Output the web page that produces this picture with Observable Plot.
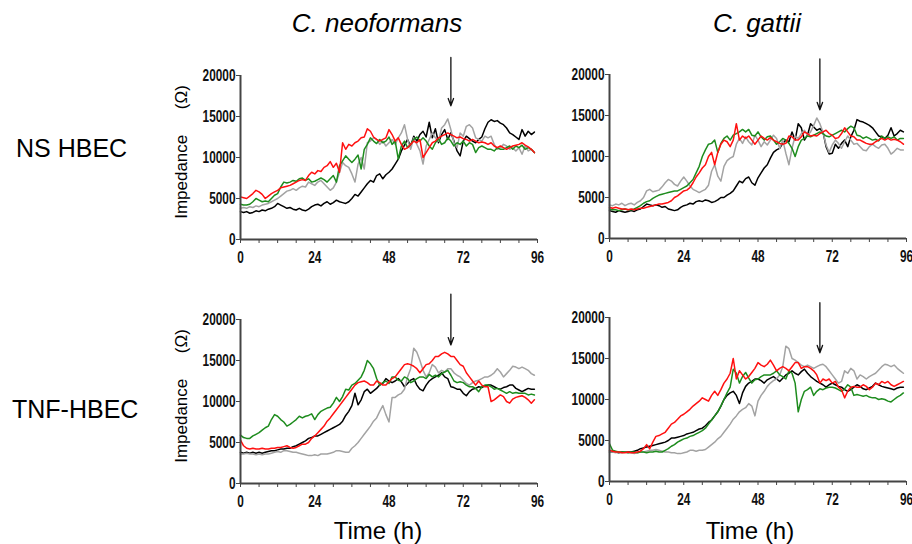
<!DOCTYPE html>
<html>
<head>
<meta charset="utf-8">
<script src="https://cdn.jsdelivr.net/npm/d3@7"></script>
<script src="https://cdn.jsdelivr.net/npm/@observablehq/plot@0.6"></script>
<style>
  html, body { margin: 0; padding: 0; background: #fff; }
  #fig { position: relative; width: 912px; height: 544px; overflow: hidden; background: #fff; }
  #fig > svg.panel { position: absolute; overflow: visible; }
  #labels { position: absolute; left: 0; top: 0; pointer-events: none; }
</style>
</head>
<body>
<div id="fig"></div>
<script>
// ---------- data (impedance in kΩ, one value per hour from 0 h) ----------
const columnTitles = ["C. neoformans", "C. gattii"];
const rowTitles = ["NS HBEC", "TNF-HBEC"];
const yTicks = [0, 5, 10, 15, 20];
const yTickLabels = ["0", "5000", "10000", "15000", "20000"];
const xTicks = [0, 6, 12, 18, 24, 30, 36, 42, 48, 54, 60, 66, 72, 78, 84, 90, 96];
const xTickLabels = [0, 24, 48, 72, 96];
const treatmentTime = 68;

// NS HBEC, C. neoformans
const tlBlack = [3.4,3.3,3.4,3.2,3.3,3.5,3.4,3.6,3.5,3.7,3.8,
  4.0,4.4,4.2,4.0,3.8,3.9,3.7,3.6,3.8,3.6,
  3.5,3.7,4.0,4.2,4.3,4.1,4.4,4.6,4.3,4.5,
  4.8,4.6,4.5,4.4,4.6,5.0,5.5,5.3,5.8,6.3,
  6.8,7.2,7.0,7.8,8.0,7.4,7.9,8.2,8.6,9.2,
  9.8,10.8,11.5,12.2,11.4,12.6,12.0,12.8,13.2,12.5,
  14.3,12.4,13.5,11.8,12.8,13.4,12.2,13.0,12.0,10.8,
  10.2,12.0,12.6,12.3,12.0,11.8,12.2,12.5,13.5,14.3,
  14.6,14.4,14.5,14.2,14.0,13.6,13.0,12.8,12.5,12.2,
  13.4,12.6,13.2,12.8,13.1];
const tlGray = [3.8,3.9,3.8,4.0,3.9,4.1,4.0,4.2,4.3,4.4,4.6,
  4.8,5.0,5.3,5.6,5.9,6.0,6.2,6.0,6.3,6.5,
  6.4,7.0,6.8,6.6,7.0,7.2,6.8,6.4,6.0,6.3,
  7.0,8.2,9.4,9.0,8.8,8.0,7.0,9.2,10.0,8.6,
  11.8,12.0,12.4,12.2,11.6,12.0,11.4,11.8,12.2,11.6,
  12.4,13.0,14.0,12.2,11.0,12.4,11.6,10.8,9.2,11.4,
  12.2,13.0,12.4,12.0,13.6,14.0,14.7,13.4,11.8,11.2,
  13.0,12.6,13.8,14.0,13.6,12.4,12.2,12.0,12.6,12.4,
  12.6,11.6,11.0,11.2,11.6,11.4,11.0,11.2,10.8,11.2,
  10.4,11.4,10.8,11.0,10.6];
const tlGreen = [4.3,4.2,4.2,4.3,4.6,5.0,4.8,4.6,4.7,4.6,5.0,
  5.4,5.6,6.4,7.0,6.9,7.0,7.2,7.1,7.4,7.5,
  7.2,7.4,7.0,7.1,7.3,7.5,7.3,7.0,7.4,7.8,
  7.0,9.0,9.6,10.2,9.8,9.4,9.8,10.3,8.6,11.0,
  11.6,12.4,12.0,11.7,12.2,11.8,12.0,12.5,11.6,12.0,
  9.8,11.4,12.0,11.2,11.6,12.2,12.5,12.0,12.4,12.0,
  11.4,11.0,11.8,12.3,11.6,11.8,12.4,12.0,11.4,11.8,
  11.6,12.0,11.4,11.8,11.6,10.6,11.2,11.4,11.2,11.0,
  11.0,10.8,11.2,11.0,11.0,11.2,11.4,11.0,11.4,11.2,
  11.5,11.0,11.2,11.0,10.6];
const tlRed = [5.2,5.1,5.0,5.3,5.6,6.0,5.8,5.5,5.0,5.3,5.6,
  5.8,6.0,6.3,6.4,6.5,6.6,6.8,7.0,7.2,7.3,
  7.2,7.8,8.2,8.0,8.4,8.3,8.8,9.0,9.5,8.8,
  9.3,8.2,11.8,11.0,11.6,11.4,11.8,12.0,12.4,12.5,
  13.5,13.2,12.5,12.2,12.0,12.2,12.4,13.4,12.8,12.0,
  12.4,11.6,11.0,11.2,11.6,12.0,11.8,12.2,10.0,10.6,
  11.2,11.8,12.0,12.4,12.6,12.8,13.0,12.8,12.6,12.4,
  12.5,12.3,12.2,12.0,12.2,12.0,11.8,11.9,11.8,11.6,
  11.8,11.4,11.2,11.4,11.2,11.0,11.2,11.4,11.5,11.6,
  11.8,11.5,11.3,11.0,10.6];

// NS HBEC, C. gattii
const trBlack = [3.4,3.3,3.2,3.4,3.3,3.2,3.3,3.4,3.3,3.5,3.6,
  3.9,4.2,4.1,4.0,4.1,4.0,3.8,3.9,3.6,3.5,
  3.4,3.5,3.8,4.0,4.1,4.3,4.2,4.5,4.6,4.5,
  4.7,4.6,4.4,4.5,4.7,5.0,5.0,5.3,5.5,5.8,
  6.4,7.0,6.8,7.3,7.5,6.8,6.5,7.4,8.0,8.6,
  9.0,9.8,10.5,10.8,11.0,11.6,12.0,11.8,13.0,12.0,
  14.0,13.5,12.0,12.6,14.0,13.6,13.2,13.4,13.0,11.2,
  10.3,10.4,11.5,11.0,11.6,12.0,11.2,12.4,13.2,14.5,
  14.3,14.2,14.0,13.8,13.5,13.0,12.5,12.4,12.2,12.6,
  13.5,12.5,12.8,13.2,13.0];
const trGray = [4.1,4.0,4.2,4.1,4.3,4.0,4.2,4.3,4.1,4.4,4.6,
  5.0,5.8,6.0,5.7,5.8,5.9,6.3,6.8,7.2,7.0,
  6.6,6.4,7.0,7.5,7.0,6.4,6.0,5.8,5.6,5.8,
  6.0,6.5,8.2,9.0,7.6,7.0,8.8,9.5,9.8,10.0,
  11.5,12.2,11.6,12.4,11.8,11.4,12.6,12.0,11.2,11.8,
  11.4,12.0,12.6,12.2,11.0,12.0,10.4,9.0,11.0,12.5,
  12.2,12.8,13.2,12.6,13.0,13.8,14.7,14.0,13.0,11.4,
  10.5,11.4,12.0,11.6,11.0,11.8,12.5,12.0,11.5,11.6,
  11.2,10.8,10.7,11.2,11.5,11.2,11.0,11.4,11.5,11.0,
  10.3,10.6,11.0,10.8,10.8];
const trGreen = [3.6,3.5,3.5,3.4,3.5,3.6,3.5,3.5,3.6,3.8,4.0,
  4.3,4.5,4.6,4.9,5.1,5.3,5.4,5.5,5.6,5.7,
  5.8,5.8,6.0,6.2,6.4,6.8,7.2,8.0,8.8,10.0,
  10.8,11.5,11.6,12.0,10.5,11.6,12.2,12.5,12.0,12.6,
  12.8,13.0,13.3,13.0,13.3,12.6,12.5,13.0,12.4,12.0,
  12.4,12.5,12.0,11.5,11.8,12.2,12.0,11.6,11.0,10.0,
  11.2,12.0,12.2,12.5,12.4,12.6,12.8,13.0,12.8,12.5,
  12.4,12.6,12.8,13.0,13.2,13.0,13.4,13.7,13.5,12.6,
  12.5,12.2,12.4,12.2,12.0,12.1,11.9,12.5,12.2,12.4,
  12.2,12.4,12.0,12.2,12.2];
const trRed = [3.8,3.7,3.8,3.7,3.6,3.6,3.5,3.6,3.5,3.6,3.7,
  3.7,3.8,3.9,4.0,4.1,4.2,4.2,4.3,4.4,4.6,
  5.0,5.2,5.5,5.8,5.9,6.2,6.8,7.5,8.0,8.6,
  9.0,10.0,10.5,9.0,10.5,11.5,12.0,11.8,11.2,12.0,
  14.0,12.0,12.5,12.2,12.5,12.0,11.5,12.0,12.5,12.2,
  12.0,12.3,12.0,11.8,11.6,11.5,11.6,12.5,12.4,12.0,
  12.0,12.4,13.0,12.8,12.5,12.6,12.5,12.8,13.0,13.2,
  12.8,12.6,12.2,12.3,12.8,13.5,13.0,12.5,12.4,12.0,
  12.0,11.8,11.6,11.5,11.5,11.8,12.0,12.2,12.0,12.2,
  12.0,12.1,12.0,11.8,11.5];

// TNF-HBEC, C. neoformans
const blBlack = [3.8,3.7,3.8,3.7,3.8,3.7,3.8,3.7,3.8,3.9,4.0,
  4.0,4.1,4.2,4.2,4.3,4.3,4.5,4.6,4.8,5.0,
  5.2,5.5,5.6,5.8,5.8,6.0,6.2,6.4,6.6,6.8,
  7.0,7.2,7.6,8.3,8.8,9.5,11.0,9.6,10.2,11.2,
  11.5,11.0,11.3,11.6,12.0,12.2,12.8,12.5,12.3,12.5,
  12.8,12.4,11.8,12.2,12.6,12.8,12.0,11.5,11.3,12.0,
  12.5,12.8,13.0,13.2,13.5,13.0,12.8,11.8,11.7,11.5,
  11.5,11.0,10.7,11.2,11.5,11.6,11.8,11.7,11.9,12.0,
  12.0,11.8,11.6,11.5,11.7,11.8,12.0,12.0,11.6,11.4,
  11.2,11.4,11.6,11.5,11.5];
const blGray = [3.6,3.6,3.7,3.6,3.6,3.5,3.6,3.5,3.6,3.6,3.7,
  3.8,3.9,3.8,4.0,4.0,3.9,3.8,3.8,3.7,3.6,
  3.5,3.4,3.4,3.5,3.4,3.6,3.6,3.6,3.7,3.8,
  4.0,4.0,3.9,3.8,3.8,4.3,4.6,5.0,5.5,6.0,
  6.5,7.0,7.6,8.0,8.8,9.5,8.4,7.5,10.5,10.5,
  10.8,11.0,11.5,13.0,14.0,16.5,16.0,15.0,13.8,13.0,
  13.5,14.5,14.2,13.5,13.8,13.6,14.0,14.0,13.5,13.2,
  13.0,12.6,12.2,12.0,12.3,12.5,12.6,12.8,13.0,13.0,
  13.2,13.5,14.0,13.6,13.0,13.4,13.8,14.3,14.2,14.0,
  14.2,14.0,13.8,13.4,13.2];
const blGreen = [5.9,5.6,5.5,5.5,5.8,6.0,6.2,6.5,6.8,7.0,7.8,
  8.4,8.2,7.8,7.5,7.0,7.2,7.5,7.8,8.2,8.0,
  8.2,8.3,8.5,7.8,8.4,8.8,9.0,9.2,9.3,9.8,
  10.5,10.0,10.6,11.5,11.4,12.0,12.2,12.6,13.0,13.8,
  15.0,14.6,14.0,12.8,12.0,12.3,12.5,12.2,13.0,13.0,
  12.6,12.5,13.0,12.8,12.3,12.5,12.8,13.0,13.0,12.8,
  13.3,13.0,13.2,13.0,13.4,13.6,13.8,13.2,12.5,12.3,
  12.4,12.3,12.0,11.8,11.8,11.6,11.2,11.8,12.0,12.0,
  11.8,11.5,11.6,11.4,11.2,11.0,11.2,11.0,11.1,11.0,
  11.0,11.0,10.8,10.9,10.8];
const blRed = [5.3,4.6,4.3,4.2,4.3,4.2,4.2,4.3,4.2,4.2,4.3,
  4.3,4.4,4.4,4.5,4.6,4.4,4.3,4.4,4.6,4.8,
  4.8,5.0,5.5,5.8,6.2,6.6,7.0,7.6,8.0,8.5,
  9.0,9.5,10.0,10.5,11.0,11.5,12.0,12.3,12.4,12.5,
  12.3,12.0,12.0,12.5,12.3,12.0,12.0,12.4,12.8,13.0,
  13.5,14.0,14.5,14.6,14.5,14.3,14.0,13.5,14.0,14.5,
  14.6,15.0,15.5,15.5,15.8,16.0,15.8,15.5,15.5,15.0,
  14.5,14.3,13.5,13.0,12.5,12.0,12.5,12.0,11.8,11.8,
  10.0,10.2,10.5,10.8,10.6,10.0,9.8,10.3,10.5,10.6,
  10.7,10.5,10.2,9.8,10.2];

// TNF-HBEC, C. gattii
const brBlack = [3.6,3.6,3.6,3.5,3.6,3.6,3.6,3.6,3.7,3.8,4.0,
  4.1,4.2,4.3,4.4,4.5,4.6,4.7,4.8,5.0,5.3,
  5.3,5.4,5.5,5.6,5.8,5.9,6.0,6.2,6.4,6.5,
  6.8,7.2,7.5,8.0,8.5,9.2,10.0,10.5,10.8,11.0,
  10.5,9.5,10.8,11.6,12.0,12.2,12.5,12.5,12.3,12.0,
  12.4,12.6,12.8,12.5,12.2,12.6,13.0,13.2,13.5,13.2,
  13.0,13.4,13.7,13.2,12.8,12.5,12.2,12.0,11.8,11.5,
  11.8,12.0,11.8,11.6,11.5,11.2,11.0,11.2,11.5,11.8,
  11.6,11.3,11.2,11.4,11.6,12.0,11.8,11.6,11.5,11.4,
  11.3,11.2,11.4,11.5,11.5];
const brGray = [3.6,3.6,3.5,3.6,3.5,3.6,3.5,3.5,3.4,3.5,3.6,
  3.6,3.7,3.8,3.8,3.9,3.8,3.7,3.6,3.6,3.5,
  3.5,3.4,3.4,3.5,3.6,3.8,3.8,3.7,3.8,3.8,
  3.9,4.2,4.5,4.8,5.2,5.5,6.0,6.5,7.0,7.6,
  8.0,8.5,8.8,9.0,9.5,9.2,8.0,9.8,10.5,11.0,
  11.6,12.0,12.3,12.5,13.0,14.0,16.5,16.2,15.0,14.8,
  14.5,14.2,14.0,14.2,14.0,13.8,14.0,14.2,14.3,14.0,
  13.5,13.0,12.5,12.0,12.2,13.5,13.2,13.8,13.5,12.5,
  13.0,12.8,12.5,12.8,13.0,13.2,13.6,14.0,14.3,14.2,
  14.0,14.2,13.8,13.5,13.2];
const brGreen = [4.6,3.8,3.7,3.6,3.6,3.6,3.5,3.6,3.6,3.5,3.6,
  3.6,3.5,3.6,3.6,3.7,3.6,3.6,3.8,4.0,4.3,
  4.5,4.8,5.0,5.2,5.3,5.5,5.6,5.8,6.0,6.2,
  6.5,7.0,7.5,8.0,8.5,9.2,10.0,10.8,11.5,13.7,
  13.2,12.0,12.8,13.3,12.6,12.0,12.4,12.5,12.8,13.0,
  13.0,13.0,13.2,13.5,13.0,12.8,12.5,13.5,13.2,12.0,
  8.5,10.0,11.0,11.2,11.5,10.5,11.0,11.3,11.2,11.4,
  11.5,11.5,11.4,11.2,11.0,11.3,11.8,11.5,10.5,10.6,
  10.5,10.4,10.5,10.3,10.2,10.2,10.0,10.1,10.0,9.8,
  9.7,10.0,10.3,10.5,10.8];
const brRed = [3.8,3.7,3.6,3.6,3.5,3.5,3.6,3.5,3.5,3.6,3.7,
  4.0,4.5,4.0,4.8,5.5,5.6,5.8,6.0,6.5,7.0,
  7.2,7.6,8.0,8.2,8.5,8.8,9.2,9.5,9.8,10.2,
  10.0,9.8,10.5,11.0,10.5,11.2,12.0,12.5,13.2,15.0,
  12.5,13.5,13.0,12.5,12.8,13.3,13.8,14.5,14.2,14.0,
  14.3,14.8,14.2,13.5,13.8,14.0,13.8,13.5,14.0,14.5,
  14.5,13.8,14.0,14.0,13.8,13.5,13.0,12.0,12.5,12.3,
  12.5,12.0,12.2,11.5,11.2,10.2,11.0,11.5,11.6,11.5,
  11.5,11.8,11.6,11.2,11.5,12.0,11.8,12.2,12.0,12.2,
  11.8,11.6,11.8,12.0,12.2];

// arrow spans (kΩ) marking the time point in each panel
const tlArrow = [22.2, 16.3];
const trArrow = [21.9, 15.7];
const blArrow = [23.1, 16.9];
const brArrow = [21.8, 15.7];

// ---------- drawing ----------
const seriesColors = {black: "#000000", gray: "#a3a3a3", green: "#1e8c1e", red: "#ff1010"};

const panels = [
  {left: 190, top: 55, data: {black: tlBlack, gray: tlGray, green: tlGreen, red: tlRed}, arrow: tlArrow},
  {left: 559, top: 54, data: {black: trBlack, gray: trGray, green: trGreen, red: trRed}, arrow: trArrow},
  {left: 190, top: 299, data: {black: blBlack, gray: blGray, green: blGreen, red: blRed}, arrow: blArrow},
  {left: 559, top: 297, data: {black: brBlack, gray: brGray, green: brGreen, red: brRed}, arrow: brArrow}
];

const fig = document.getElementById("fig");

function narrowTickText(chart) {
  chart.querySelectorAll('g[aria-label$="tick label"] text').forEach(t => {
    const tr = t.getAttribute("transform");
    if (tr) {
      t.setAttribute("transform", tr + " scale(0.74,1)");
    } else {
      const x = +(t.getAttribute("x") || 0), y = +(t.getAttribute("y") || 0);
      t.setAttribute("x", 0); t.setAttribute("y", 0);
      t.setAttribute("transform", `translate(${x},${y}) scale(0.74,1)`);
    }
  });
}

for (const p of panels) {
  const lines = ["black", "gray", "green", "red"].map(k =>
    Plot.lineY(p.data[k], {x: (d, i) => i, y: d => d, stroke: seriesColors[k], strokeWidth: 1.5})
  );
  const chart = Plot.plot({
    width: 360, height: 215,
    marginLeft: 50, marginRight: 13, marginTop: 20, marginBottom: 31,
    x: {domain: [0, 96]},
    y: {domain: [0, 20]},
    style: {
      fontFamily: '"Liberation Sans", Arial, sans-serif',
      fontSize: "16px", fontWeight: "bold", color: "#111", background: "transparent", overflow: "visible"
    },
    marks: [
      Plot.axisY({ticks: yTicks, tickFormat: d => yTickLabels[yTicks.indexOf(d)], tickSize: 4, tickPadding: 1, label: null, stroke: "#444"}),
      Plot.axisX({ticks: xTicks, tickFormat: d => xTickLabels.includes(d) ? String(d) : "", tickSize: 4, tickPadding: 8, label: null, stroke: "#444"}),
      ...lines,
      Plot.ruleX([0], {y1: 0, y2: 20, stroke: "#444", strokeWidth: 2}),
      Plot.ruleY([0], {x1: 0, x2: 96, stroke: "#444", strokeWidth: 2}),
      Plot.arrow([p.arrow], {x1: () => treatmentTime, x2: () => treatmentTime, y1: d => d[0], y2: d => d[1], stroke: "#111", strokeWidth: 1.3, headLength: 9, headAngle: 40})
    ]
  });
  narrowTickText(chart);
  chart.classList.add("panel");
  chart.style.left = p.left + "px";
  chart.style.top = p.top + "px";
  chart.style.maxWidth = "none";
  fig.appendChild(chart);
}

// ---------- text labels ----------
const NS = "http://www.w3.org/2000/svg";
const lab = document.createElementNS(NS, "svg");
lab.setAttribute("id", "labels");
lab.setAttribute("width", 912);
lab.setAttribute("height", 544);
lab.setAttribute("font-family", '"Liberation Sans", Arial, sans-serif');
lab.setAttribute("fill", "#000");
function addText(str, x, y, size, opts = {}) {
  const t = document.createElementNS(NS, "text");
  t.textContent = str;
  t.setAttribute("x", x);
  t.setAttribute("y", y);
  t.setAttribute("font-size", size);
  t.setAttribute("text-anchor", opts.anchor || "start");
  if (opts.italic) t.setAttribute("font-style", "italic");
  if (opts.rotate) t.setAttribute("transform", `rotate(-90 ${x} ${y})`);
  t.style.whiteSpace = "pre";
  lab.appendChild(t);
}
addText(columnTitles[0], 377, 32, 26, {anchor: "middle", italic: true});
addText(columnTitles[1], 757, 32, 26, {anchor: "middle", italic: true});
addText(rowTitles[0], 16, 157, 25);
addText(rowTitles[1], 12, 418, 25);
addText("Time (h)", 378, 539, 24, {anchor: "middle"});
addText("Time (h)", 750, 539, 24, {anchor: "middle"});
addText("Impedance\u2003\u2002(\u03A9)", 187, 152, 17, {anchor: "middle", rotate: true});
addText("Impedance\u2003\u2002(\u03A9)", 187, 396, 17, {anchor: "middle", rotate: true});
fig.appendChild(lab);
</script>
</body>
</html>
